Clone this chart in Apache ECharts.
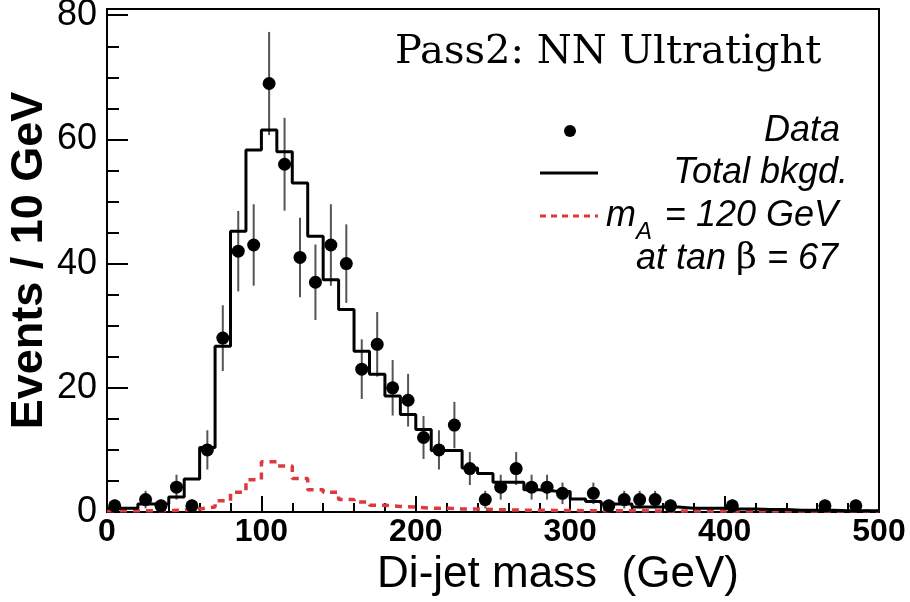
<!DOCTYPE html>
<html>
<head>
<meta charset="utf-8">
<script src="https://cdn.jsdelivr.net/npm/echarts@6/dist/echarts.min.js"></script>
<style>
html,body{margin:0;padding:0;background:#fff;}
#chart{width:910px;height:602px;}
</style>
</head>
<body>
<div id="chart"></div>
<script>
// Bin width 10 GeV, 50 bins from 0 to 500 GeV
const binWidth = 10;
const xTicks = [0, 100, 200, 300, 400, 500];
const yTicks = [0, 20, 40, 60, 80];

// Observed data counts per bin (bins 0-10, 10-20, ...)
const dataCounts = [
  1, 0, 2, 1, 4, 1, 10, 28, 42, 43,
  69, 56, 41, 37, 43, 40, 23, 27, 20, 18,
  12, 10, 14, 7, 2, 4, 7, 4, 4, 3,
  0, 3, 1, 2, 2, 2, 1, 0, 0, 0,
  1, 0, 0, 0, 0, 0, 1, 0, 1, 0
];
// Statistical error per bin
const dataErrors = [
  1, 0, 1.41, 1, 2, 1, 3.16, 5.29, 6.48, 6.56,
  8.31, 7.48, 6.4, 6.08, 6.56, 6.32, 4.8, 5.2, 4.47, 4.24,
  3.46, 3.16, 3.74, 2.65, 1.41, 2, 2.65, 2, 2, 1.73,
  0, 1.73, 1, 1.41, 1.41, 1.41, 1, 0, 0, 0,
  1, 0, 0, 0, 0, 0, 1, 0, 1, 0
];
// Total background per bin
const bkgd = [
  0.6, 0.6, 1.3, 1.3, 2.4, 5.3, 10.4, 26.7, 45.2, 58.3,
  61.5, 58.0, 53.0, 44.4, 37.4, 32.6, 25.9, 22.2, 18.7, 15.7,
  13.3, 9.9, 9.9, 7.1, 6.2, 4.8, 4.8, 3.6, 3.4, 3.3,
  2.1, 1.7, 1.3, 1.3, 0.8, 0.8, 0.8, 0.6, 0.6, 0.6,
  0.5, 0.5, 0.4, 0.4, 0.3, 0.3, 0.3, 0.2, 0.2, 0.2
];
// Signal m_A = 120 GeV, tan beta = 67
const signal = [
  0.2, 0.2, 0.2, 0.25, 0.3, 0.5, 0.8, 1.8, 3.2, 5.2,
  8.1, 7.4, 5.4, 3.6, 3.2, 2.0, 1.6, 1.1, 0.9, 0.8,
  0.6, 0.6, 0.5, 0.5, 0.4, 0.35, 0.3, 0.3, 0.25, 0.25,
  0.2, 0.2, 0.2, 0.2, 0.2, 0.15, 0.15, 0.15, 0.15, 0.15,
  0.15, 0.15, 0.15, 0.15, 0.15, 0.15, 0.15, 0.15, 0.15, 0.15
];

function histLine(arr) {
  const pts = arr.map((v, i) => [i * binWidth, v]);
  pts.push([arr.length * binWidth, arr[arr.length - 1]]);
  return pts;
}
const dataPoints = [];
const errPoints = [];
dataCounts.forEach((v, i) => {
  if (v > 0) {
    dataPoints.push([i * binWidth + binWidth / 2, v]);
    errPoints.push([i * binWidth + binWidth / 2, v, dataErrors[i]]);
  }
});

const chart = echarts.init(document.getElementById('chart'));
const helv = 'Liberation Sans, Arial, Helvetica, sans-serif';
chart.setOption({
  animation: false,
  backgroundColor: '#ffffff',
  grid: {
    left: 107, right: 31, top: 9, bottom: 90,
    outerBoundsMode: 'none', containLabel: false,
    show: true, borderColor: '#000', borderWidth: 2, backgroundColor: 'transparent'
  },
  xAxis: {
    type: 'value', min: xTicks[0], max: xTicks[xTicks.length - 1], interval: 100,
    name: 'Di-jet mass  (GeV)', nameLocation: 'middle', nameGap: 38,
    nameTextStyle: { fontFamily: helv, fontSize: 44, color: '#000', padding: [0, 0, 0, 130] },
    axisLine: { show: true, lineStyle: { color: '#000', width: 2 } },
    axisTick: { show: true, inside: true, length: 16, lineStyle: { color: '#000', width: 2 } },
    minorTick: { show: true, splitNumber: 5, length: 9, lineStyle: { color: '#000', width: 2 } },
    axisLabel: { fontFamily: helv, fontSize: 32, fontWeight: 'bold', color: '#000', margin: 4 },
    splitLine: { show: false }
  },
  yAxis: {
    type: 'value', min: 0, max: 81, interval: 20,
    name: 'Events / 10 GeV', nameLocation: 'middle', nameGap: 55, nameMoveOverlap: false,
    nameTextStyle: { fontFamily: helv, fontSize: 45, fontWeight: 'bold', color: '#000' },
    axisLine: { show: true, lineStyle: { color: '#000', width: 2 } },
    axisTick: { show: true, inside: true, length: 21, lineStyle: { color: '#000', width: 2 } },
    minorTick: { show: true, splitNumber: 4, length: 12, lineStyle: { color: '#000', width: 2 } },
    axisLabel: { fontFamily: helv, fontSize: 36, color: '#000', margin: 10, showMaxLabel: false,
      formatter: v => (yTicks.indexOf(v) >= 0 ? String(v) : '') },
    splitLine: { show: false }
  },
  series: [
    {
      name: 'm_A = 120 GeV', type: 'line', step: 'end', data: histLine(signal),
      symbol: 'none', z: 2,
      lineStyle: { color: '#dc3a3e', width: 3.5, type: [7, 6] }
    },
    {
      name: 'Total bkgd.', type: 'line', step: 'end', data: histLine(bkgd),
      symbol: 'none', z: 3,
      lineStyle: { color: '#000', width: 3 }
    },
    {
      name: 'Data errors', type: 'custom', data: errPoints, z: 2,
      renderItem: function (params, api) {
        const x = api.value(0), y = api.value(1), e = api.value(2);
        const p1 = api.coord([x, y - e]);
        const p2 = api.coord([x, y + e]);
        return {
          type: 'line',
          shape: { x1: p1[0], y1: p1[1], x2: p2[0], y2: p2[1] },
          style: { stroke: '#555', lineWidth: 2 }
        };
      }
    },
    {
      name: 'Data', type: 'scatter', data: dataPoints, symbol: 'circle', symbolSize: 13, z: 4,
      itemStyle: { color: '#000', opacity: 1 }
    }
  ],
  graphic: [
    { type: 'text', left: 395, top: 33, z: 10,
      style: { text: 'Pass2: NN Ultratight', font: '40px "DejaVu Serif", serif', fill: '#000' } },
    // legend
    { type: 'circle', shape: { cx: 570, cy: 131, r: 6 }, style: { fill: '#000' }, z: 10 },
    { type: 'text', z: 10, style: { x: 840, y: 131, text: 'Data', align: 'right', verticalAlign: 'middle',
      font: 'italic 36px "Liberation Sans", Arial, sans-serif', fill: '#000' } },
    { type: 'line', shape: { x1: 540, y1: 173, x2: 598, y2: 173 }, style: { stroke: '#000', lineWidth: 3 }, z: 10 },
    { type: 'text', z: 10, style: { x: 848, y: 173, text: 'Total bkgd.', align: 'right', verticalAlign: 'middle',
      font: 'italic 36px "Liberation Sans", Arial, sans-serif', fill: '#000' } },
    { type: 'line', shape: { x1: 540, y1: 216, x2: 598, y2: 216 }, style: { stroke: '#dc3a3e', lineWidth: 3, lineDash: [6, 5] }, z: 10 },
    { type: 'text', z: 10, style: { x: 838, y: 216, text: '= 120 GeV', align: 'right', verticalAlign: 'middle',
      font: 'italic 36px "Liberation Sans", Arial, sans-serif', fill: '#000' } },
    { type: 'text', z: 10, style: { x: 606, y: 216, text: 'm', align: 'left', verticalAlign: 'middle',
      font: 'italic 36px "Liberation Sans", Arial, sans-serif', fill: '#000' } },
    { type: 'text', z: 10, style: { x: 636, y: 232, text: 'A', align: 'left', verticalAlign: 'middle',
      font: 'italic 24px "Liberation Sans", Arial, sans-serif', fill: '#000' } },
    { type: 'text', z: 10, style: { x: 838, y: 259, align: 'right', verticalAlign: 'middle',
      text: '{i|at tan }{b|β}{i| = 67}',
      rich: {
        i: { font: 'italic 36px "Liberation Sans", Arial, sans-serif', fill: '#000' },
        b: { font: '36px "DejaVu Serif", serif', fill: '#000' }
      } } }
  ]
});
</script>
</body>
</html>
